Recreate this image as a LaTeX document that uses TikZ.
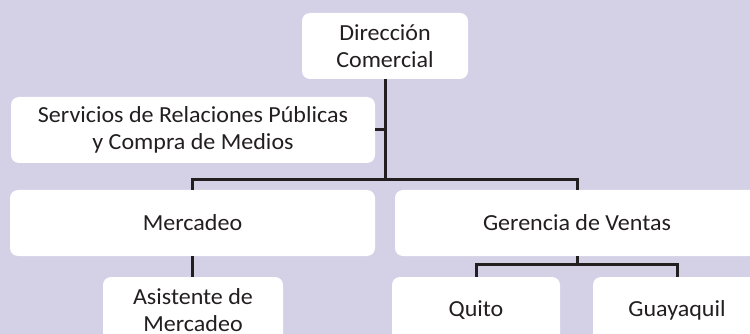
\documentclass[tikz,border=0pt]{standalone}
\usepackage{fontspec}
\setmainfont[FakeStretch=1.045]{Carlito}
\definecolor{bgc}{RGB}{212,209,231}
\definecolor{linec}{RGB}{35,31,32}
\definecolor{txtc}{RGB}{35,31,32}
\begin{document}
\begin{tikzpicture}[x=1pt,y=-1pt,
  box/.style={fill=white,draw=none,rounded corners=8pt,inner sep=0pt,
    minimum height=66pt,align=center,text=txtc,
    font=\fontsize{23pt}{27.5pt}\selectfont},
  conn/.style={draw=linec,line width=3pt}]
\fill[bgc] (0,0) rectangle (750,334);
\useasboundingbox (0,0) rectangle (750,334);
\begin{scope}
\clip (0,0) rectangle (750,334);
\node[box,minimum width=166pt] (dir) at (385,46) {Dirección\\Comercial};
\node[box,minimum width=364pt] (serv) at (193,130) {Servicios de Relaciones Públicas\\y Compra de Medios};
\node[box,minimum width=365pt] (merc) at (192.5,223) {Mercadeo};
\node[box,minimum width=364pt] (ger) at (577,223) {Gerencia de Ventas};
\node[box,minimum width=180pt] (asis) at (193,310) {Asistente de\\Mercadeo};
\node[box,minimum width=168pt] (quito) at (476,310) {Quito};
\node[box,minimum width=168pt] (guay) at (677,310) {Guayaquil};
\coordinate (j1) at (385,180);
\coordinate (j2) at (577,264);
\draw[conn] (dir.south) -- (j1);
\draw[conn] (serv.east) -- (serv.east -| j1);
\draw[conn] (merc.north) |- (j1) -| (ger.north);
\draw[conn] (merc.south) -- (merc.south |- asis.north);
\draw[conn] (ger.south) -- (j2);
\draw[conn] (quito.north) |- (j2) -| (guay.north);
\end{scope}
\end{tikzpicture}
\end{document}
